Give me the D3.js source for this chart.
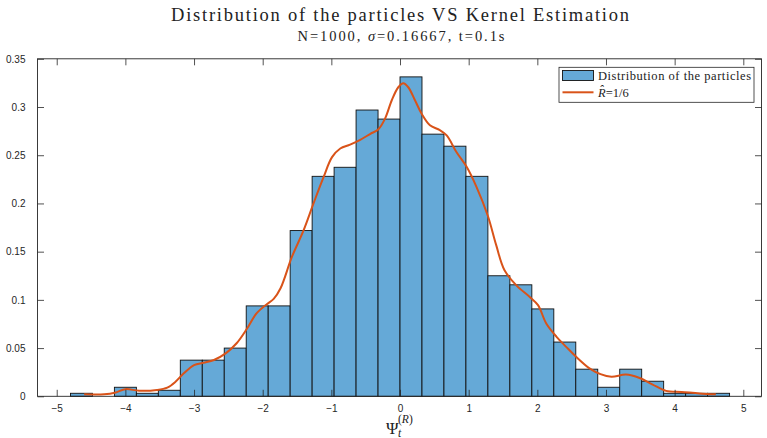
<!DOCTYPE html>
<html>
<head>
<meta charset="utf-8">
<script src="https://cdn.jsdelivr.net/npm/d3@7"></script>
<style>
  html, body { margin: 0; padding: 0; background: #fff; }
  svg { display: block; }
</style>
</head>
<body>
<svg id="chart" width="767" height="438"></svg>
<script>
// ---- data ----
const binStart = -4.8;
const binWidth = 0.32;
const binDensity = [
  0.003125, 0, 0.009375, 0.003125, 0.00625,
  0.0375, 0.0375, 0.05, 0.09375, 0.09375,
  0.171875, 0.228125, 0.2375, 0.296875, 0.2875,
  0.33125, 0.271875, 0.259375, 0.228125, 0.125,
  0.115625, 0.090625, 0.05625, 0.028125, 0.009375,
  0.028125, 0.015625, 0.003125, 0.003125, 0.003125
];
const kdeX = [-4.60, -4.31, -4.14, -4.00, -3.80, -3.54, -3.39, -3.27, -3.15, -3.00,
  -2.86, -2.71, -2.54, -2.38, -2.23, -2.09, -1.94, -1.84, -1.74, -1.575,
  -1.405, -1.26, -1.115, -0.99, -0.87, -0.727, -0.58, -0.436, -0.315, -0.218,
  -0.12, -0.025, 0.048, 0.12, 0.218, 0.315, 0.436, 0.58, 0.68, 0.824,
  0.97, 1.115, 1.28, 1.40, 1.52, 1.695, 1.89, 2.01, 2.13, 2.28,
  2.42, 2.565, 2.76, 2.92, 3.08, 3.29, 3.49, 3.68, 3.875, 4.10,
  4.36, 4.60];
const kdeY = [0.002, 0.002, 0.004, 0.0074, 0.0058, 0.0066, 0.009, 0.0151, 0.0238, 0.0324,
  0.0348, 0.0376, 0.0445, 0.055, 0.070, 0.086, 0.0955, 0.101, 0.112, 0.1445,
  0.172, 0.200, 0.227, 0.248, 0.257, 0.261, 0.266, 0.272, 0.277, 0.288,
  0.307, 0.3205, 0.3246, 0.3205, 0.307, 0.293, 0.281, 0.276, 0.2705, 0.253,
  0.238, 0.217, 0.187, 0.157, 0.131, 0.115, 0.103, 0.0945, 0.0755, 0.0617,
  0.0513, 0.041, 0.029, 0.023, 0.0203, 0.0225, 0.019, 0.0122, 0.0056, 0.0045,
  0.003, 0.002];
const xTicks = [-5, -4, -3, -2, -1, 0, 1, 2, 3, 4, 5];
const yTicks = [0, 0.05, 0.1, 0.15, 0.2, 0.25, 0.3, 0.35];
const yTickLabels = ["0", "0.05", "0.1", "0.15", "0.2", "0.25", "0.3", "0.35"];
const titleText = "Distribution of the particles VS Kernel Estimation";
const legendLabels = ["Distribution of the particles", "R\u0302", "=1/6"];

// ---- layout ----
const L = 37.5, R = 761.5, T = 58.8, B = 396.3;
const svg = d3.select("#chart");
const x = d3.scaleLinear().domain([-5.28, 5.265]).range([L, R]);
const y = d3.scaleLinear().domain([0, 0.35]).range([B, T]);
const axisColor = "#262626";
const serif = "'Liberation Serif', 'Times New Roman', serif";
const sans = "'Liberation Sans', Helvetica, Arial, sans-serif";

// bars
const bins = binDensity.map((d, i) => ({ x0: binStart + i * binWidth, x1: binStart + (i + 1) * binWidth, v: d }));
svg.append("g").selectAll("rect").data(bins.filter(b => b.v > 0)).join("rect")
  .attr("x", d => x(d.x0))
  .attr("y", d => y(d.v))
  .attr("width", d => x(d.x1) - x(d.x0))
  .attr("height", d => y(0) - y(d.v))
  .attr("fill", "#65A9D7")
  .attr("stroke", "#111")
  .attr("stroke-width", 0.9);

// kde line
const pts = kdeX.map((v, i) => [v, kdeY[i]]);
svg.append("path")
  .attr("d", d3.line().x(d => x(d[0])).y(d => y(d[1])).curve(d3.curveCatmullRom.alpha(0.5))(pts))
  .attr("fill", "none")
  .attr("stroke", "#D95319")
  .attr("stroke-width", 2);

// axes (ticks inward, box)
const tickLen = 6.5;
const gx = svg.append("g").attr("transform", `translate(0,${B})`)
  .call(d3.axisBottom(x).tickValues(xTicks).tickSizeInner(-tickLen).tickSizeOuter(0).tickPadding(9).tickFormat(d3.format("d")));
const gxt = svg.append("g").attr("transform", `translate(0,${T})`)
  .call(d3.axisTop(x).tickValues(xTicks).tickSizeInner(-tickLen).tickSizeOuter(0).tickFormat(""));
const gy = svg.append("g").attr("transform", `translate(${L},0)`)
  .call(d3.axisLeft(y).tickValues(yTicks).tickSizeInner(-tickLen).tickSizeOuter(0).tickPadding(12).tickFormat((d, i) => yTickLabels[i]));
const gyr = svg.append("g").attr("transform", `translate(${R},0)`)
  .call(d3.axisRight(y).tickValues(yTicks).tickSizeInner(-tickLen).tickSizeOuter(0).tickFormat(""));
[gx, gxt, gy, gyr].forEach(g => {
  g.select(".domain").remove();
  g.selectAll("line").attr("stroke", axisColor).attr("stroke-width", 0.8);
  g.selectAll("text").attr("fill", axisColor).attr("font-family", sans).attr("font-size", 10);
});
svg.append("rect").attr("x", L).attr("y", T).attr("width", R - L).attr("height", B - T)
  .attr("fill", "none").attr("stroke", axisColor).attr("stroke-width", 0.9);

// titles
svg.append("text").attr("x", 400).attr("y", 20.5).attr("text-anchor", "middle")
  .attr("font-family", serif).attr("font-size", 18.5).attr("fill", "#222")
  .attr("textLength", 458).attr("lengthAdjust", "spacing")
  .text(titleText);
const sub = svg.append("text").attr("x", 401).attr("y", 41).attr("text-anchor", "middle")
  .attr("font-family", serif).attr("font-size", 14.5).attr("fill", "#222")
  .attr("textLength", 207).attr("lengthAdjust", "spacing");
sub.append("tspan").text("N=1000, ");
sub.append("tspan").attr("font-style", "italic").text("\u03C3");
sub.append("tspan").text("=0.16667, t=0.1s");

// x label  Ψ_t^(R)
const xl = svg.append("g").attr("font-family", serif).attr("fill", "#222");
xl.append("text").attr("x", 386).attr("y", 434).attr("font-size", 17).text("\u03A8");
xl.append("text").attr("x", 398).attr("y", 437).attr("font-size", 11.5).attr("font-style", "italic").text("t");
const sup = xl.append("text").attr("x", 398).attr("y", 423).attr("font-size", 11.5);
sup.append("tspan").text("(");
sup.append("tspan").attr("font-style", "italic").text("R");
sup.append("tspan").text(")");

// legend
const lg = svg.append("g");
lg.append("rect").attr("x", 559).attr("y", 67.3).attr("width", 195).attr("height", 35)
  .attr("fill", "#fff").attr("stroke", axisColor).attr("stroke-width", 0.8);
lg.append("rect").attr("x", 562.5).attr("y", 70.5).attr("width", 31).attr("height", 10)
  .attr("fill", "#65A9D7").attr("stroke", "#111").attr("stroke-width", 0.9);
lg.append("line").attr("x1", 562.5).attr("x2", 593.5).attr("y1", 92.3).attr("y2", 92.3)
  .attr("stroke", "#D95319").attr("stroke-width", 2);
lg.append("text").attr("x", 598).attr("y", 79.5).attr("font-family", serif).attr("font-size", 12.5)
  .attr("fill", "#222").attr("textLength", 153).attr("lengthAdjust", "spacing").text(legendLabels[0]);
const lt = lg.append("text").attr("x", 598).attr("y", 96.5).attr("font-family", serif).attr("font-size", 12.5)
  .attr("fill", "#222");
lt.append("tspan").attr("font-style", "italic").text(legendLabels[1]);
lt.append("tspan").text(legendLabels[2]);
</script>
</body>
</html>
